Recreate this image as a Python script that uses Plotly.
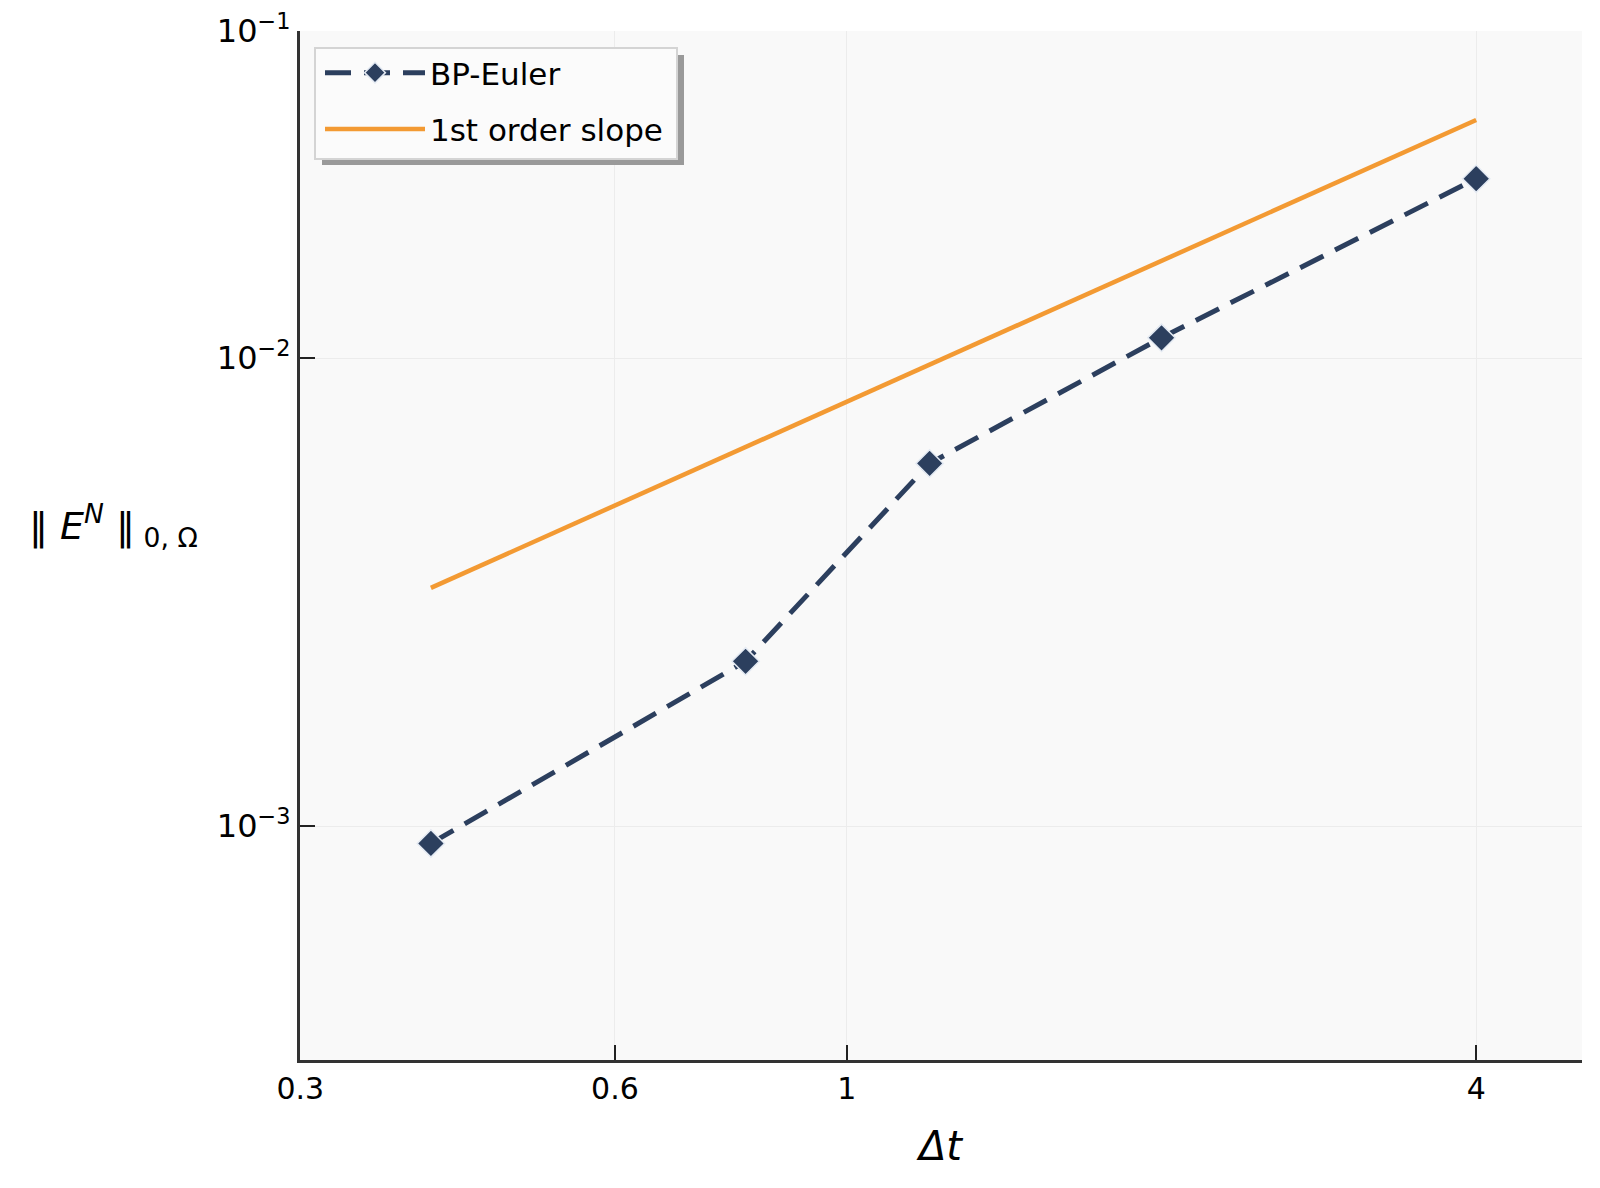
import plotly.graph_objects as go
import math

# data
dt = [0.4, 0.8, 1.2, 2.0, 4.0]
err_bp_euler = [9.18e-4, 2.25e-3, 5.96e-3, 1.106e-2, 2.42e-2]
slope_dt = [0.4, 4.0]
slope_err = [3.23e-3, 3.23e-2]

xtick_vals = [0.3, 0.6, 1, 4]
xtick_text = ["0.3", "0.6", "1", "4"]
ytick_vals = [1e-3, 1e-2, 5e-2]
ytick_text = ["10<sup>−3</sup>", "10<sup>−2</sup>", "10<sup>−1</sup>"]

NAVY = "#2c3f5e"
ORANGE = "#f39a33"
FONT = "DejaVu Sans"

W, H = 1600, 1188
BODY = 8  # default page margin of the html body
# target plot area in screenshot pixels
PX0, PX1, PY0, PY1 = 300, 1582, 31, 1060
L = PX0 - BODY
T = PY0 - BODY
R = W - PX1 + BODY
B = H - PY1 + BODY
pw, ph = PX1 - PX0, PY1 - PY0


def px_x(p):
    return (p - PX0) / pw


def px_y(p):
    return 1 - (p - PY0) / ph


fig = go.Figure()
fig.add_trace(go.Scatter(
    x=dt, y=err_bp_euler, name="BP-Euler", mode="lines+markers",
    legendgroup="a",
    line=dict(color=NAVY, width=5, dash="26px,13px"),
    marker=dict(symbol="diamond", size=21, color=NAVY,
                line=dict(color="#e4eaf3", width=1.5)),
))
fig.add_trace(go.Scatter(
    x=slope_dt, y=slope_err, name="1st order slope", mode="lines",
    legendgroup="b",
    line=dict(color=ORANGE, width=4.5),
))

# legend box with shadow
fig.add_shape(type="rect", xref="paper", yref="paper",
              x0=px_x(322), x1=px_x(684), y0=px_y(165), y1=px_y(55),
              fillcolor="#9a9a9a", line=dict(width=0), layer="above")
fig.add_shape(type="rect", xref="paper", yref="paper",
              x0=px_x(315), x1=px_x(677), y0=px_y(159), y1=px_y(48),
              fillcolor="#fbfbfb", line=dict(color="#d4d4d4", width=2),
              layer="above")

fig.update_layout(
    width=W, height=H,
    margin=dict(l=L, r=R, t=T, b=B, autoexpand=False),
    paper_bgcolor="white",
    plot_bgcolor="#f9f9f9",
    font=dict(family=FONT, size=30, color="black"),
    showlegend=True,
    legend=dict(
        x=px_x(320), y=px_y(46), xanchor="left", yanchor="top",
        bgcolor="rgba(0,0,0,0)", borderwidth=0,
        font=dict(family=FONT, size=31, color="black"),
        itemwidth=100, tracegroupgap=13, traceorder="grouped",
    ),
    xaxis=dict(
        type="log", range=[math.log10(0.3) - 0.0003, math.log10(5.05)],
        tickvals=xtick_vals, ticktext=xtick_text,
        ticks="inside", ticklen=15, tickwidth=2, tickcolor="#222",
        showline=True, linecolor="#333", linewidth=3, mirror=False,
        showgrid=True, gridcolor="#ececec", gridwidth=1,
        zeroline=False, tickfont=dict(size=30), automargin=False,
        ticklabeloverflow="allow",
    ),
    yaxis=dict(
        type="log", range=[-3.5, math.log10(0.05) + 0.0005],
        tickvals=ytick_vals, ticktext=ytick_text,
        ticks="inside", ticklen=15, tickwidth=2, tickcolor="#222",
        showline=True, linecolor="#333", linewidth=3, mirror=False,
        showgrid=True, gridcolor="#ececec", gridwidth=1,
        zeroline=False, tickfont=dict(size=32), automargin=False,
        ticklabeloverflow="allow",
    ),
    annotations=[
        dict(text="<i>Δt</i>", xref="paper", yref="paper",
             x=px_x(939), y=px_y(1146), xanchor="center", yanchor="middle",
             showarrow=False, font=dict(family=FONT, size=40)),
        dict(text="‖ <i>E</i><sup><i>N</i></sup> ‖<sub> 0, Ω</sub>", xref="paper", yref="paper",
             x=px_x(113), y=px_y(525), xanchor="center", yanchor="middle",
             showarrow=False, font=dict(family=FONT, size=38)),
    ],
)

fig.write_html("out.html")
